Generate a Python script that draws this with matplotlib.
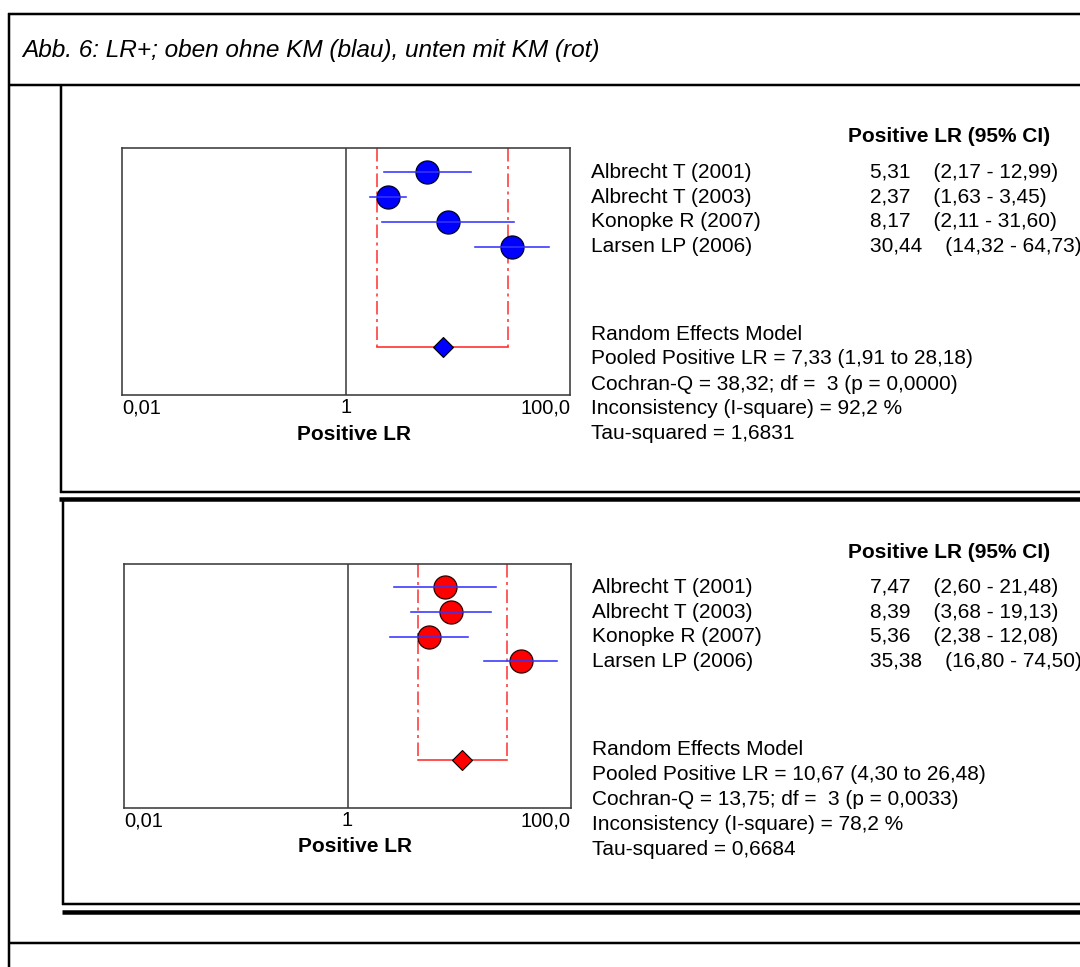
import numpy as np
import matplotlib
matplotlib.use("Agg")
import matplotlib.pyplot as plt
from matplotlib.lines import Line2D
from matplotlib import transforms, font_manager

# ---- data -----------------------------------------------------------------
studies = ["Albrecht T (2001)", "Albrecht T (2003)", "Konopke R (2007)", "Larsen LP (2006)"]

# without contrast agent (blue)
lr_ohne = [5.31, 2.37, 8.17, 30.44]
lo_ohne = [2.17, 1.63, 2.11, 14.32]
hi_ohne = [12.99, 3.45, 31.60, 64.73]
pooled_ohne = [7.33, 1.91, 28.18]          # estimate, lower, upper
cochran_ohne = [38.32, 3, 0.0000]          # Q, df, p
isq_ohne = 92.2
tau2_ohne = 1.6831

# with contrast agent (red)
lr_mit = [7.47, 8.39, 5.36, 35.38]
lo_mit = [2.60, 3.68, 2.38, 16.80]
hi_mit = [21.48, 19.13, 12.08, 74.50]
pooled_mit = [10.67, 4.30, 26.48]
cochran_mit = [13.75, 3, 0.0033]
isq_mit = 78.2
tau2_mit = 0.6684

xticks = [0.01, 1, 100]
xtick_labels = ["0,01", "1", "100,0"]

title = "Abb. 6: LR+; oben ohne KM (blau), unten mit KM (rot)"

# ---- figure setup ----------------------------------------------------------
W, H = 1080, 967
DPI = 100
plt.rcParams["font.family"] = ["Liberation Sans", "DejaVu Sans"]
fig = plt.figure(figsize=(W / DPI, H / DPI), dpi=DPI)
fig.patch.set_facecolor("white")

PX = 72.0 / DPI  # points per pixel


def fx(px):
    return px / W


def fy(py):
    return 1.0 - py / H


def de(v, nd=2):
    return f"{v:.{nd}f}".replace(".", ",")


def hline(y, x0, x1, lw):
    fig.add_artist(Line2D([fx(x0), fx(x1)], [fy(y), fy(y)], transform=fig.transFigure,
                          color="black", lw=lw * PX, solid_capstyle="butt"))


def vline(x, y0, y1, lw):
    fig.add_artist(Line2D([fx(x), fx(x)], [fy(y0), fy(y1)], transform=fig.transFigure,
                          color="black", lw=lw * PX, solid_capstyle="butt"))


# document table rules
hline(14, 8, W, 2.5)
vline(9, 13, H, 2.5)
hline(85, 9, W, 2.5)
vline(61, 85, 493, 2.5)
hline(492, 60, W, 2.5)
hline(498.5, 59, W, 4.5)
vline(62.5, 499, 905, 2.5)
hline(904, 61.5, W, 2.5)
hline(911.5, 62, W, 4.5)
hline(942.5, 9, W, 2.5)

# caption, fitted to its line in the table
names = {f.name for f in font_manager.fontManager.ttflist}
tfam = "Liberation Sans Narrow" if "Liberation Sans Narrow" in names else "Liberation Sans"
t = fig.text(fx(22), fy(50), title, fontsize=16, style="italic", family=tfam,
             ha="left", va="center")
fig.canvas.draw()
wpx = t.get_window_extent().width
t.set_fontsize(16 * 579.0 / wpx)

FS = 15
BLUE_LINE = "#3434ff"
RED_LINE = "#ff2a2a"


def panel(top, left, width, height, lr, lo, hi, pooled, cq, isq, tau2,
          face, edge, dx):
    ax = fig.add_axes([fx(left), fy(top + height), width / W, height / H])
    ax.set_xscale("log")
    ax.set_xlim(0.01, 100)
    ax.set_ylim(9.94, 0.035)
    for s in ax.spines.values():
        s.set_color("#3c3c3c")
        s.set_linewidth(1.6 * PX)
    ax.set_yticks([])
    ax.set_xticks(xticks)
    ax.set_xticks([], minor=True)
    ax.set_xticklabels(xtick_labels, fontsize=14.5)
    ax.tick_params(axis="x", length=0, pad=2.5)
    labs = ax.get_xticklabels()
    labs[0].set_ha("left")
    labs[-1].set_ha("right")
    ax.set_xlabel("Positive LR", fontsize=FS, fontweight="bold", va="center")
    ax.xaxis.set_label_coords(0.5 + 8.0 / width, -39.0 / height)

    rows = np.arange(1, len(lr) + 1)
    prow = len(lr) + 4

    # line of no effect
    ax.axvline(1, color="#333333", lw=1.5 * PX, zorder=1)

    # pooled interval: dash-dot verticals down to the pooled row
    est, plo, phi = pooled
    for xv in (plo, phi):
        l, = ax.plot([xv, xv], [0.035, prow], color=RED_LINE, lw=1.5 * PX, zorder=2)
        l.set_dashes([9, 3, 2, 3])
    ax.plot([plo, phi], [prow, prow], color=RED_LINE, lw=1.6 * PX, zorder=2)
    ax.plot([est], [prow], marker="D", ms=10.6, color=face, mec="black", mew=0.8,
            zorder=4)

    # studies: point estimates with CI lines drawn on top
    ax.plot(lr, rows, "o", ms=16.6, color=face, mec=edge, mew=0.9, zorder=3,
            linestyle="none")
    for r, a, b in zip(rows, lo, hi):
        ax.plot([a, b], [r, r], color=BLUE_LINE, lw=1.6 * PX, zorder=5)

    # right-hand annotation
    tr = transforms.blended_transform_factory(fig.transFigure, ax.transData)
    fig.text(fx(848 + dx * 0.5), fy(top - 11), "Positive LR (95% CI)", fontsize=FS,
             fontweight="bold", ha="left", va="center")
    for r, name, v, a, b in zip(rows, studies, lr, lo, hi):
        ax.text(fx(591 + dx), r, name, transform=tr, fontsize=FS, ha="left",
                va="center", clip_on=False)
        ax.text(fx(870), r, f"{de(v)}    ({de(a)} - {de(b)})", transform=tr,
                fontsize=FS, ha="left", va="center", clip_on=False)

    q, df, p = cq
    summary = [
        "Random Effects Model",
        f"Pooled Positive LR = {de(est)} ({de(plo)} to {de(phi)})",
        f"Cochran-Q = {de(q)}; df =  {df} (p = {de(p, 4)})",
        f"Inconsistency (I-square) = {de(isq, 1)} %",
        f"Tau-squared = {de(tau2, 4)}",
    ]
    for i, s in enumerate(summary):
        fig.text(fx(591 + dx), fy(top + 186 + 25 * i), s, fontsize=FS,
                 ha="left", va="center")
    return ax


panel(148, 122, 448, 247, lr_ohne, lo_ohne, hi_ohne, pooled_ohne, cochran_ohne,
      isq_ohne, tau2_ohne, "#0000ff", "#000020", 0)
panel(563.5, 124, 447, 244.5, lr_mit, lo_mit, hi_mit, pooled_mit, cochran_mit,
      isq_mit, tau2_mit, "#ff0000", "#300000", 1)

fig.savefig("out.png", dpi=DPI)
